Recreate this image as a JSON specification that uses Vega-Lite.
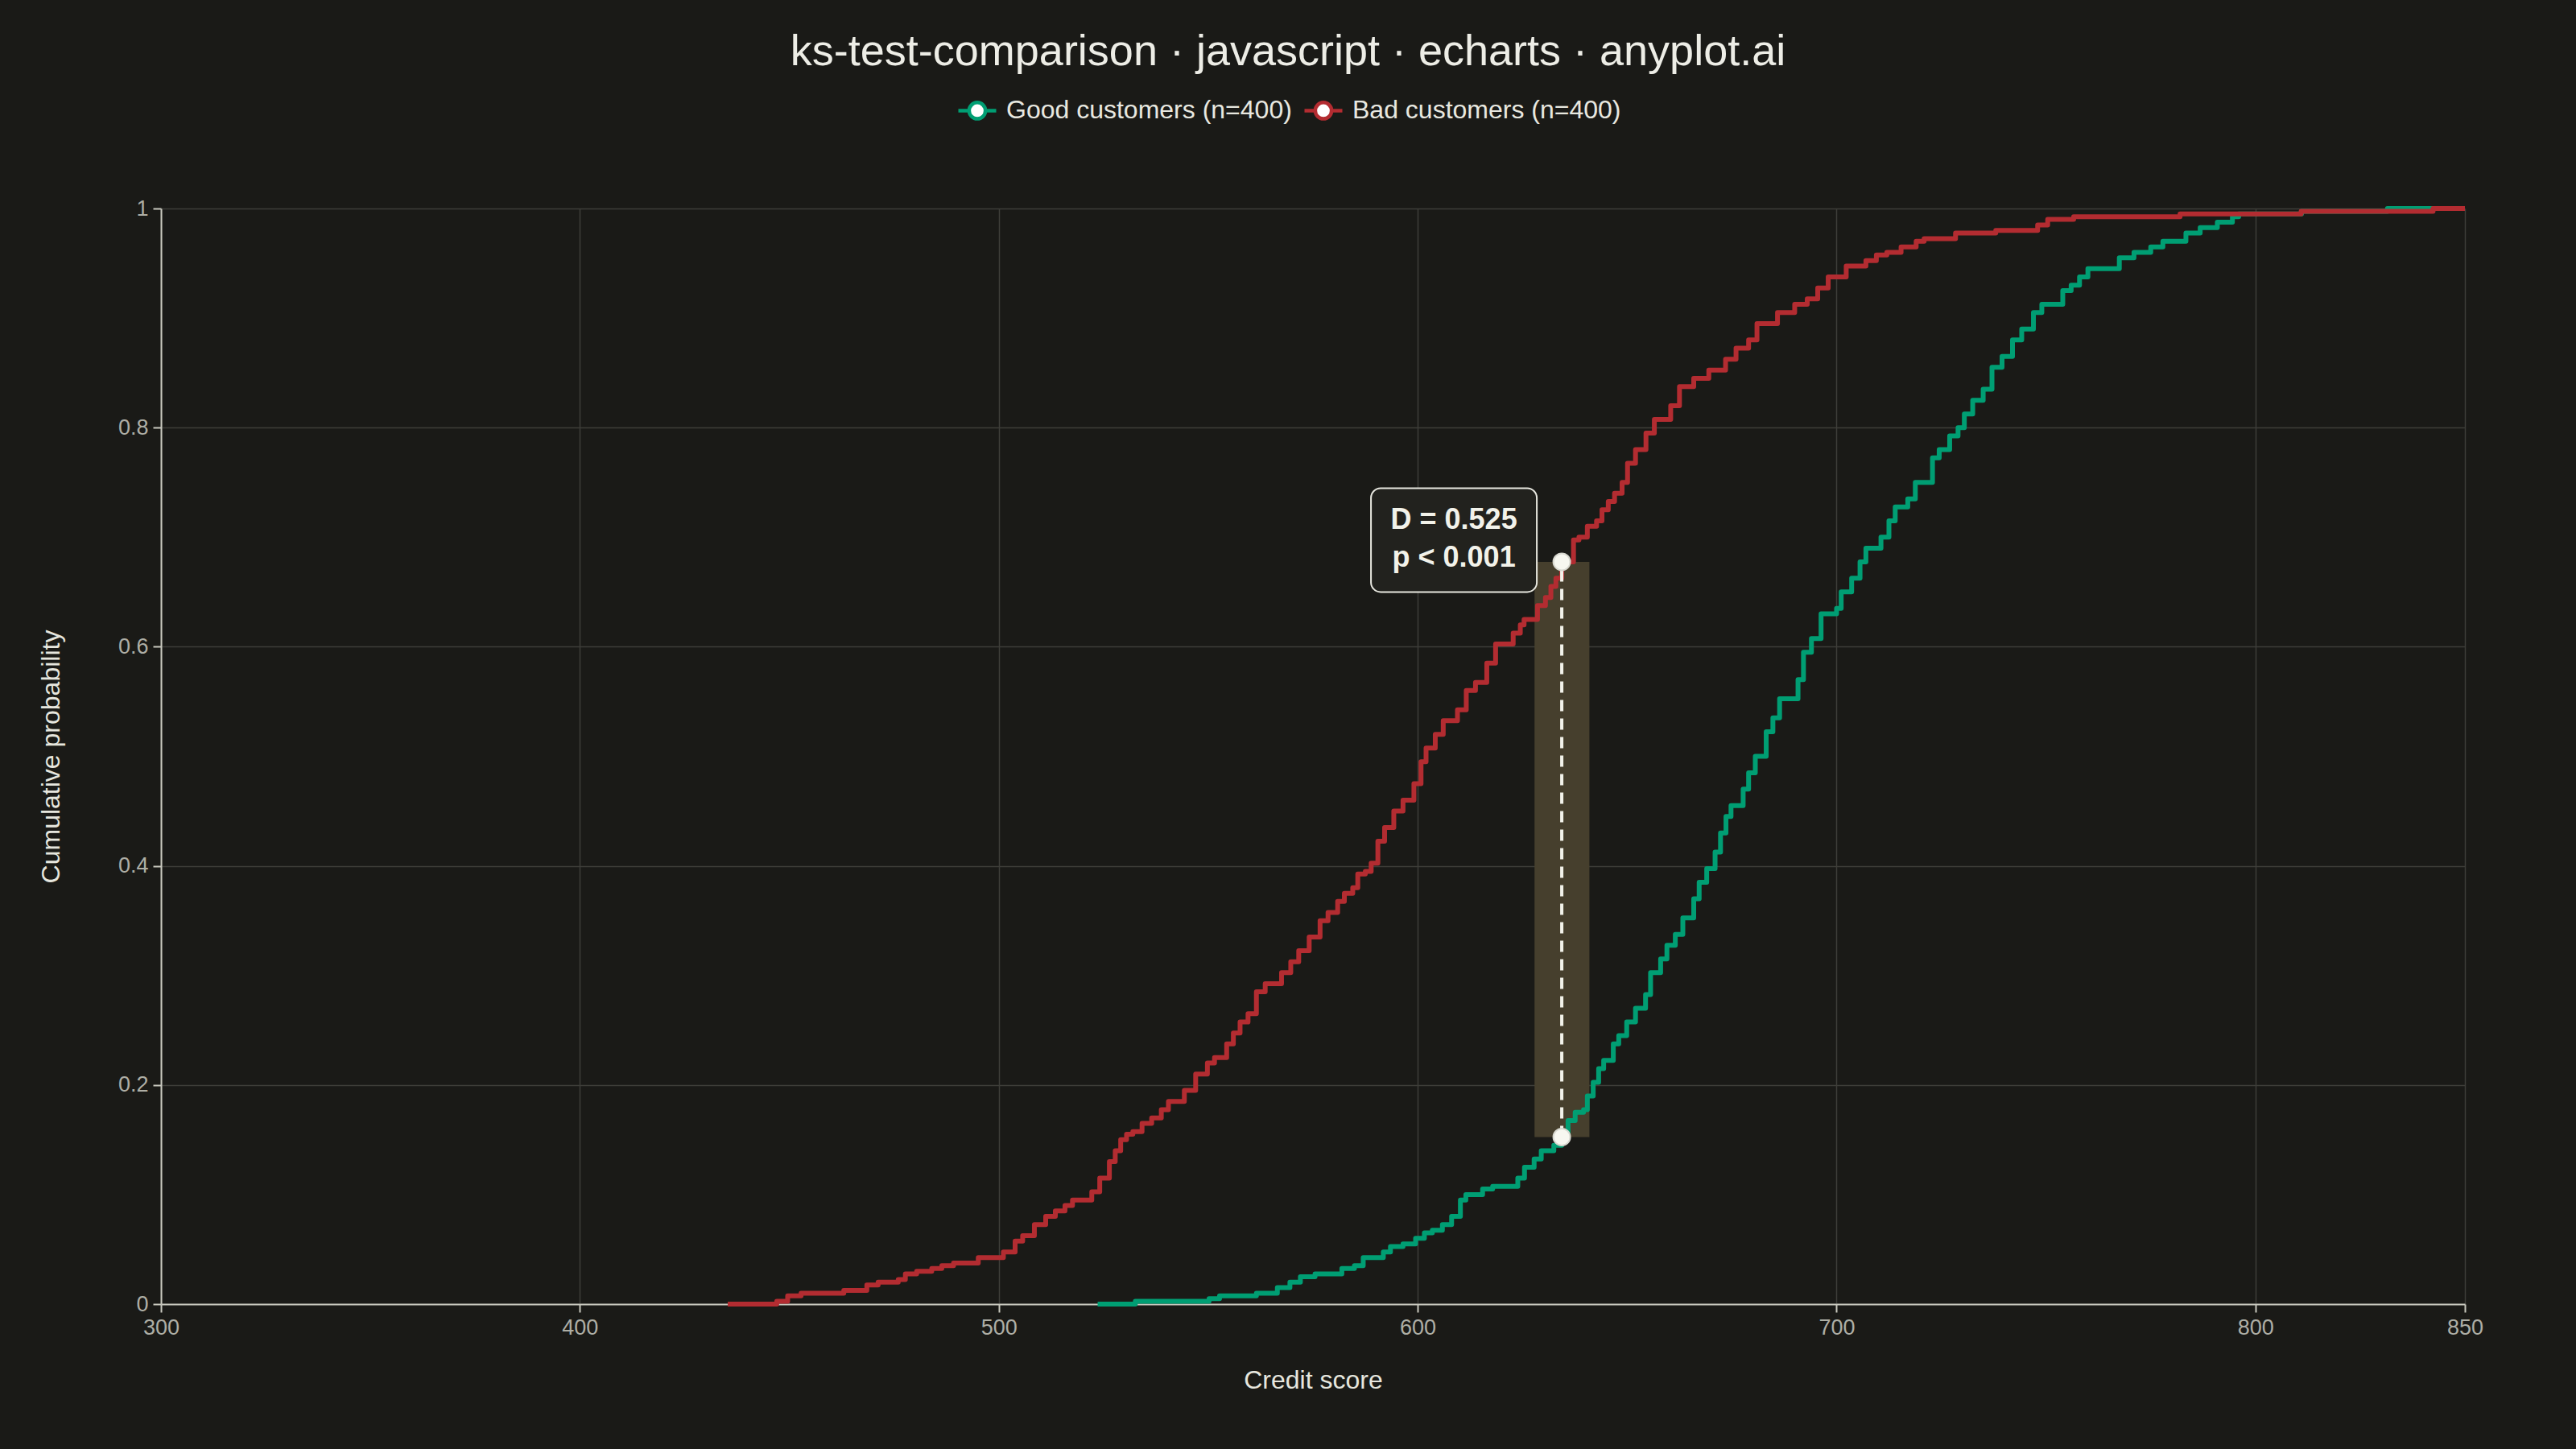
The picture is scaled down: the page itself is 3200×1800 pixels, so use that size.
{
  "$schema": "https://vega.github.io/schema/vega-lite/v6.json",
  "autosize": {"type": "none"},
  "width": 2862,
  "height": 1361,
  "padding": {"left": 200, "top": 259, "right": 138, "bottom": 180},
  "background": "#1A1A17",
  "title": {
    "text": "ks-test-comparison · javascript · echarts · anyplot.ai",
    "anchor": "middle",
    "frame": "group",
    "dx": -31,
    "offset": 19,
    "fontSize": 54,
    "fontWeight": "normal",
    "color": "#EDEDE6",
    "font": "Liberation Sans"
  },
  "datasets": {
    "ecdf": [
      {"series": "Good customers (n=400)", "score": 523.6, "cdf": 0},
      {"series": "Good customers (n=400)", "score": 532.6, "cdf": 0.0025},
      {"series": "Good customers (n=400)", "score": 550.2, "cdf": 0.005},
      {"series": "Good customers (n=400)", "score": 552.7, "cdf": 0.0075},
      {"series": "Good customers (n=400)", "score": 561.5, "cdf": 0.01},
      {"series": "Good customers (n=400)", "score": 566.5, "cdf": 0.015},
      {"series": "Good customers (n=400)", "score": 569.5, "cdf": 0.02},
      {"series": "Good customers (n=400)", "score": 572, "cdf": 0.025},
      {"series": "Good customers (n=400)", "score": 575.5, "cdf": 0.0275},
      {"series": "Good customers (n=400)", "score": 581.9, "cdf": 0.0325},
      {"series": "Good customers (n=400)", "score": 584.9, "cdf": 0.035},
      {"series": "Good customers (n=400)", "score": 587, "cdf": 0.0425},
      {"series": "Good customers (n=400)", "score": 591.8, "cdf": 0.0475},
      {"series": "Good customers (n=400)", "score": 593.5, "cdf": 0.0525},
      {"series": "Good customers (n=400)", "score": 596.5, "cdf": 0.055},
      {"series": "Good customers (n=400)", "score": 599.5, "cdf": 0.06},
      {"series": "Good customers (n=400)", "score": 601.6, "cdf": 0.065},
      {"series": "Good customers (n=400)", "score": 603.5, "cdf": 0.0675},
      {"series": "Good customers (n=400)", "score": 605.9, "cdf": 0.0725},
      {"series": "Good customers (n=400)", "score": 608.1, "cdf": 0.08},
      {"series": "Good customers (n=400)", "score": 610.2, "cdf": 0.095},
      {"series": "Good customers (n=400)", "score": 611.5, "cdf": 0.1},
      {"series": "Good customers (n=400)", "score": 615.5, "cdf": 0.105},
      {"series": "Good customers (n=400)", "score": 617.9, "cdf": 0.1075},
      {"series": "Good customers (n=400)", "score": 623.9, "cdf": 0.115},
      {"series": "Good customers (n=400)", "score": 625.5, "cdf": 0.125},
      {"series": "Good customers (n=400)", "score": 627.8, "cdf": 0.1325},
      {"series": "Good customers (n=400)", "score": 629.5, "cdf": 0.14},
      {"series": "Good customers (n=400)", "score": 632.5, "cdf": 0.145},
      {"series": "Good customers (n=400)", "score": 634.4, "cdf": 0.1525},
      {"series": "Good customers (n=400)", "score": 635.9, "cdf": 0.1675},
      {"series": "Good customers (n=400)", "score": 637.6, "cdf": 0.175},
      {"series": "Good customers (n=400)", "score": 639.6, "cdf": 0.1775},
      {"series": "Good customers (n=400)", "score": 640.5, "cdf": 0.19},
      {"series": "Good customers (n=400)", "score": 641.9, "cdf": 0.2025},
      {"series": "Good customers (n=400)", "score": 643.2, "cdf": 0.215},
      {"series": "Good customers (n=400)", "score": 644.4, "cdf": 0.2225},
      {"series": "Good customers (n=400)", "score": 646.7, "cdf": 0.2375},
      {"series": "Good customers (n=400)", "score": 648, "cdf": 0.245},
      {"series": "Good customers (n=400)", "score": 649.9, "cdf": 0.2575},
      {"series": "Good customers (n=400)", "score": 652, "cdf": 0.27},
      {"series": "Good customers (n=400)", "score": 654.4, "cdf": 0.2825},
      {"series": "Good customers (n=400)", "score": 655.6, "cdf": 0.3025},
      {"series": "Good customers (n=400)", "score": 658, "cdf": 0.315},
      {"series": "Good customers (n=400)", "score": 659.5, "cdf": 0.3275},
      {"series": "Good customers (n=400)", "score": 661.5, "cdf": 0.3375},
      {"series": "Good customers (n=400)", "score": 663.3, "cdf": 0.3525},
      {"series": "Good customers (n=400)", "score": 665.9, "cdf": 0.37},
      {"series": "Good customers (n=400)", "score": 667.2, "cdf": 0.385},
      {"series": "Good customers (n=400)", "score": 669, "cdf": 0.3975},
      {"series": "Good customers (n=400)", "score": 671, "cdf": 0.4125},
      {"series": "Good customers (n=400)", "score": 672.3, "cdf": 0.43},
      {"series": "Good customers (n=400)", "score": 673.6, "cdf": 0.445},
      {"series": "Good customers (n=400)", "score": 674.8, "cdf": 0.455},
      {"series": "Good customers (n=400)", "score": 677.7, "cdf": 0.47},
      {"series": "Good customers (n=400)", "score": 679, "cdf": 0.485},
      {"series": "Good customers (n=400)", "score": 680.6, "cdf": 0.5},
      {"series": "Good customers (n=400)", "score": 683.2, "cdf": 0.5225},
      {"series": "Good customers (n=400)", "score": 684.8, "cdf": 0.535},
      {"series": "Good customers (n=400)", "score": 686.4, "cdf": 0.5525},
      {"series": "Good customers (n=400)", "score": 690.8, "cdf": 0.57},
      {"series": "Good customers (n=400)", "score": 692.1, "cdf": 0.595},
      {"series": "Good customers (n=400)", "score": 694, "cdf": 0.6075},
      {"series": "Good customers (n=400)", "score": 696.3, "cdf": 0.63},
      {"series": "Good customers (n=400)", "score": 700, "cdf": 0.635},
      {"series": "Good customers (n=400)", "score": 701.1, "cdf": 0.65},
      {"series": "Good customers (n=400)", "score": 703.6, "cdf": 0.6625},
      {"series": "Good customers (n=400)", "score": 705.6, "cdf": 0.6775},
      {"series": "Good customers (n=400)", "score": 707, "cdf": 0.69},
      {"series": "Good customers (n=400)", "score": 710.6, "cdf": 0.7},
      {"series": "Good customers (n=400)", "score": 712.5, "cdf": 0.715},
      {"series": "Good customers (n=400)", "score": 714, "cdf": 0.7275},
      {"series": "Good customers (n=400)", "score": 717, "cdf": 0.735},
      {"series": "Good customers (n=400)", "score": 718.8, "cdf": 0.75},
      {"series": "Good customers (n=400)", "score": 722.9, "cdf": 0.7725},
      {"series": "Good customers (n=400)", "score": 724.5, "cdf": 0.78},
      {"series": "Good customers (n=400)", "score": 727, "cdf": 0.7925},
      {"series": "Good customers (n=400)", "score": 729, "cdf": 0.8},
      {"series": "Good customers (n=400)", "score": 730.5, "cdf": 0.8125},
      {"series": "Good customers (n=400)", "score": 732.5, "cdf": 0.825},
      {"series": "Good customers (n=400)", "score": 735, "cdf": 0.835},
      {"series": "Good customers (n=400)", "score": 737.1, "cdf": 0.855},
      {"series": "Good customers (n=400)", "score": 739.5, "cdf": 0.865},
      {"series": "Good customers (n=400)", "score": 742, "cdf": 0.88},
      {"series": "Good customers (n=400)", "score": 744.2, "cdf": 0.89},
      {"series": "Good customers (n=400)", "score": 747, "cdf": 0.905},
      {"series": "Good customers (n=400)", "score": 749, "cdf": 0.9125},
      {"series": "Good customers (n=400)", "score": 754, "cdf": 0.925},
      {"series": "Good customers (n=400)", "score": 756, "cdf": 0.93},
      {"series": "Good customers (n=400)", "score": 758, "cdf": 0.9375},
      {"series": "Good customers (n=400)", "score": 760, "cdf": 0.945},
      {"series": "Good customers (n=400)", "score": 767.5, "cdf": 0.955},
      {"series": "Good customers (n=400)", "score": 771, "cdf": 0.96},
      {"series": "Good customers (n=400)", "score": 775, "cdf": 0.965},
      {"series": "Good customers (n=400)", "score": 777.9, "cdf": 0.97},
      {"series": "Good customers (n=400)", "score": 783.4, "cdf": 0.9775},
      {"series": "Good customers (n=400)", "score": 786.8, "cdf": 0.9825},
      {"series": "Good customers (n=400)", "score": 790.9, "cdf": 0.9875},
      {"series": "Good customers (n=400)", "score": 794.5, "cdf": 0.9925},
      {"series": "Good customers (n=400)", "score": 796, "cdf": 0.995},
      {"series": "Good customers (n=400)", "score": 811, "cdf": 0.9975},
      {"series": "Good customers (n=400)", "score": 831.5, "cdf": 1},
      {"series": "Good customers (n=400)", "score": 850, "cdf": 1},
      {"series": "Bad customers (n=400)", "score": 435.3, "cdf": 0},
      {"series": "Bad customers (n=400)", "score": 447, "cdf": 0.0025},
      {"series": "Bad customers (n=400)", "score": 449.6, "cdf": 0.0075},
      {"series": "Bad customers (n=400)", "score": 452.8, "cdf": 0.01},
      {"series": "Bad customers (n=400)", "score": 463, "cdf": 0.0125},
      {"series": "Bad customers (n=400)", "score": 468.5, "cdf": 0.0175},
      {"series": "Bad customers (n=400)", "score": 471.2, "cdf": 0.02},
      {"series": "Bad customers (n=400)", "score": 476, "cdf": 0.0225},
      {"series": "Bad customers (n=400)", "score": 477.7, "cdf": 0.0275},
      {"series": "Bad customers (n=400)", "score": 480.4, "cdf": 0.03},
      {"series": "Bad customers (n=400)", "score": 484, "cdf": 0.0325},
      {"series": "Bad customers (n=400)", "score": 486.4, "cdf": 0.035},
      {"series": "Bad customers (n=400)", "score": 489.2, "cdf": 0.0375},
      {"series": "Bad customers (n=400)", "score": 495.1, "cdf": 0.0425},
      {"series": "Bad customers (n=400)", "score": 501.1, "cdf": 0.0475},
      {"series": "Bad customers (n=400)", "score": 503.9, "cdf": 0.0575},
      {"series": "Bad customers (n=400)", "score": 505.7, "cdf": 0.0625},
      {"series": "Bad customers (n=400)", "score": 508.5, "cdf": 0.0725},
      {"series": "Bad customers (n=400)", "score": 511.2, "cdf": 0.08},
      {"series": "Bad customers (n=400)", "score": 513.5, "cdf": 0.085},
      {"series": "Bad customers (n=400)", "score": 515.8, "cdf": 0.09},
      {"series": "Bad customers (n=400)", "score": 517.6, "cdf": 0.095},
      {"series": "Bad customers (n=400)", "score": 522.2, "cdf": 0.1025},
      {"series": "Bad customers (n=400)", "score": 524.1, "cdf": 0.115},
      {"series": "Bad customers (n=400)", "score": 526.4, "cdf": 0.13},
      {"series": "Bad customers (n=400)", "score": 527.8, "cdf": 0.14},
      {"series": "Bad customers (n=400)", "score": 529.1, "cdf": 0.15},
      {"series": "Bad customers (n=400)", "score": 530.5, "cdf": 0.155},
      {"series": "Bad customers (n=400)", "score": 532, "cdf": 0.1575},
      {"series": "Bad customers (n=400)", "score": 534.2, "cdf": 0.165},
      {"series": "Bad customers (n=400)", "score": 536.5, "cdf": 0.17},
      {"series": "Bad customers (n=400)", "score": 538.8, "cdf": 0.1775},
      {"series": "Bad customers (n=400)", "score": 540.5, "cdf": 0.185},
      {"series": "Bad customers (n=400)", "score": 544.3, "cdf": 0.195},
      {"series": "Bad customers (n=400)", "score": 547, "cdf": 0.21},
      {"series": "Bad customers (n=400)", "score": 549.8, "cdf": 0.22},
      {"series": "Bad customers (n=400)", "score": 551.5, "cdf": 0.225},
      {"series": "Bad customers (n=400)", "score": 554.4, "cdf": 0.2375},
      {"series": "Bad customers (n=400)", "score": 556, "cdf": 0.2475},
      {"series": "Bad customers (n=400)", "score": 557.6, "cdf": 0.2575},
      {"series": "Bad customers (n=400)", "score": 559.5, "cdf": 0.265},
      {"series": "Bad customers (n=400)", "score": 561.5, "cdf": 0.285},
      {"series": "Bad customers (n=400)", "score": 563.6, "cdf": 0.2925},
      {"series": "Bad customers (n=400)", "score": 567.5, "cdf": 0.3025},
      {"series": "Bad customers (n=400)", "score": 569.7, "cdf": 0.3125},
      {"series": "Bad customers (n=400)", "score": 571.6, "cdf": 0.3225},
      {"series": "Bad customers (n=400)", "score": 574.1, "cdf": 0.335},
      {"series": "Bad customers (n=400)", "score": 576.7, "cdf": 0.35},
      {"series": "Bad customers (n=400)", "score": 578.6, "cdf": 0.3575},
      {"series": "Bad customers (n=400)", "score": 580.9, "cdf": 0.3675},
      {"series": "Bad customers (n=400)", "score": 582.5, "cdf": 0.375},
      {"series": "Bad customers (n=400)", "score": 584.5, "cdf": 0.38},
      {"series": "Bad customers (n=400)", "score": 585.7, "cdf": 0.3925},
      {"series": "Bad customers (n=400)", "score": 587.5, "cdf": 0.395},
      {"series": "Bad customers (n=400)", "score": 588.9, "cdf": 0.4025},
      {"series": "Bad customers (n=400)", "score": 590.5, "cdf": 0.4225},
      {"series": "Bad customers (n=400)", "score": 592.1, "cdf": 0.435},
      {"series": "Bad customers (n=400)", "score": 594.3, "cdf": 0.45},
      {"series": "Bad customers (n=400)", "score": 596.5, "cdf": 0.46},
      {"series": "Bad customers (n=400)", "score": 599.1, "cdf": 0.475},
      {"series": "Bad customers (n=400)", "score": 600.8, "cdf": 0.495},
      {"series": "Bad customers (n=400)", "score": 602, "cdf": 0.5075},
      {"series": "Bad customers (n=400)", "score": 604.2, "cdf": 0.52},
      {"series": "Bad customers (n=400)", "score": 606.1, "cdf": 0.5325},
      {"series": "Bad customers (n=400)", "score": 609.5, "cdf": 0.5425},
      {"series": "Bad customers (n=400)", "score": 611.6, "cdf": 0.56},
      {"series": "Bad customers (n=400)", "score": 613.8, "cdf": 0.5675},
      {"series": "Bad customers (n=400)", "score": 616.5, "cdf": 0.585},
      {"series": "Bad customers (n=400)", "score": 618.6, "cdf": 0.6025},
      {"series": "Bad customers (n=400)", "score": 622.8, "cdf": 0.6125},
      {"series": "Bad customers (n=400)", "score": 624.5, "cdf": 0.62},
      {"series": "Bad customers (n=400)", "score": 625.4, "cdf": 0.625},
      {"series": "Bad customers (n=400)", "score": 628.6, "cdf": 0.6375},
      {"series": "Bad customers (n=400)", "score": 630.5, "cdf": 0.645},
      {"series": "Bad customers (n=400)", "score": 631.8, "cdf": 0.655},
      {"series": "Bad customers (n=400)", "score": 633, "cdf": 0.6625},
      {"series": "Bad customers (n=400)", "score": 634.4, "cdf": 0.6775},
      {"series": "Bad customers (n=400)", "score": 637.2, "cdf": 0.6975},
      {"series": "Bad customers (n=400)", "score": 638.5, "cdf": 0.7},
      {"series": "Bad customers (n=400)", "score": 640.5, "cdf": 0.71},
      {"series": "Bad customers (n=400)", "score": 642.7, "cdf": 0.715},
      {"series": "Bad customers (n=400)", "score": 644, "cdf": 0.725},
      {"series": "Bad customers (n=400)", "score": 645.5, "cdf": 0.7325},
      {"series": "Bad customers (n=400)", "score": 647, "cdf": 0.74},
      {"series": "Bad customers (n=400)", "score": 648.8, "cdf": 0.75},
      {"series": "Bad customers (n=400)", "score": 650.1, "cdf": 0.7675},
      {"series": "Bad customers (n=400)", "score": 652, "cdf": 0.78},
      {"series": "Bad customers (n=400)", "score": 654.5, "cdf": 0.795},
      {"series": "Bad customers (n=400)", "score": 656.5, "cdf": 0.8075},
      {"series": "Bad customers (n=400)", "score": 660.4, "cdf": 0.82},
      {"series": "Bad customers (n=400)", "score": 662.5, "cdf": 0.8375},
      {"series": "Bad customers (n=400)", "score": 665.9, "cdf": 0.845},
      {"series": "Bad customers (n=400)", "score": 669.5, "cdf": 0.8525},
      {"series": "Bad customers (n=400)", "score": 673.5, "cdf": 0.8625},
      {"series": "Bad customers (n=400)", "score": 676, "cdf": 0.8725},
      {"series": "Bad customers (n=400)", "score": 679, "cdf": 0.88},
      {"series": "Bad customers (n=400)", "score": 681, "cdf": 0.895},
      {"series": "Bad customers (n=400)", "score": 685.9, "cdf": 0.905},
      {"series": "Bad customers (n=400)", "score": 690, "cdf": 0.9125},
      {"series": "Bad customers (n=400)", "score": 693, "cdf": 0.9175},
      {"series": "Bad customers (n=400)", "score": 695.5, "cdf": 0.9275},
      {"series": "Bad customers (n=400)", "score": 698, "cdf": 0.9375},
      {"series": "Bad customers (n=400)", "score": 702.3, "cdf": 0.9475},
      {"series": "Bad customers (n=400)", "score": 707, "cdf": 0.9525},
      {"series": "Bad customers (n=400)", "score": 709.5, "cdf": 0.9575},
      {"series": "Bad customers (n=400)", "score": 712, "cdf": 0.96},
      {"series": "Bad customers (n=400)", "score": 715.4, "cdf": 0.965},
      {"series": "Bad customers (n=400)", "score": 719, "cdf": 0.97},
      {"series": "Bad customers (n=400)", "score": 720.9, "cdf": 0.9725},
      {"series": "Bad customers (n=400)", "score": 728.4, "cdf": 0.9775},
      {"series": "Bad customers (n=400)", "score": 738, "cdf": 0.98},
      {"series": "Bad customers (n=400)", "score": 748, "cdf": 0.985},
      {"series": "Bad customers (n=400)", "score": 750.4, "cdf": 0.99},
      {"series": "Bad customers (n=400)", "score": 756.6, "cdf": 0.9925},
      {"series": "Bad customers (n=400)", "score": 782, "cdf": 0.995},
      {"series": "Bad customers (n=400)", "score": 810.9, "cdf": 0.9975},
      {"series": "Bad customers (n=400)", "score": 842.4, "cdf": 1},
      {"series": "Bad customers (n=400)", "score": 850, "cdf": 1}
    ],
    "ks": [
      {"score": 634.4, "band_lo": 627.9, "band_hi": 641, "cdf_bad": 0.6775, "cdf_good": 0.1525, "label": "D = 0.525\np < 0.001"}
    ]
  },
  "layer": [
    {
      "data": {"name": "ks"},
      "mark": {"type": "rect", "fill": "#463F2D"},
      "encoding": {
        "x": {"field": "band_lo", "type": "quantitative"},
        "x2": {"field": "band_hi"},
        "y": {"field": "cdf_good", "type": "quantitative"},
        "y2": {"field": "cdf_bad"}
      }
    },
    {
      "data": {"name": "ecdf"},
      "mark": {"type": "line", "interpolate": "step-after", "strokeWidth": 6, "strokeJoin": "round"},
      "encoding": {
        "x": {
          "field": "score",
          "type": "quantitative",
          "scale": {"domain": [300, 850], "nice": false, "zero": false},
          "axis": {
            "title": "Credit score",
            "values": [300, 400, 500, 600, 700, 800, 850],
            "format": "d",
            "labelFlush": false,
            "titlePadding": 37
          }
        },
        "y": {
          "field": "cdf",
          "type": "quantitative",
          "scale": {"domain": [0, 1], "nice": false},
          "axis": {
            "title": "Cumulative probability",
            "values": [0, 0.2, 0.4, 0.6, 0.8, 1],
            "format": "~g",
            "labelFlush": false,
            "titlePadding": 66
          }
        },
        "color": {
          "field": "series",
          "type": "nominal",
          "sort": ["Good customers (n=400)", "Bad customers (n=400)"],
          "scale": {
            "domain": ["Good customers (n=400)", "Bad customers (n=400)"],
            "range": ["#009E73", "#B32C31"]
          },
          "legend": {
            "title": null,
            "orient": "none",
            "direction": "horizontal",
            "legendX": 988,
            "legendY": -148,
            "padding": 0,
            "symbolType": "M-1,0L-0.43,0M0.43,0L1,0M0.43,0A0.43,0.43,0,1,1,-0.43,0A0.43,0.43,0,1,1,0.43,0Z",
            "symbolSize": 2209,
            "symbolStrokeWidth": 4,
            "labelFontSize": 32,
            "labelLimit": 0,
            "labelColor": "#E8E8E0",
            "labelFont": "Liberation Sans",
            "labelOffset": 10,
            "columnPadding": 6,
            "encode": {
              "symbols": {"update": {"fill": {"value": "#FFFFFF"}, "strokeWidth": {"value": 4.5}}}
            }
          }
        },
        "order": {"field": "score", "type": "quantitative"}
      }
    },
    {
      "data": {"name": "ks"},
      "mark": {"type": "rule", "stroke": "#F2F2EA", "strokeWidth": 4, "strokeDash": [14, 9]},
      "encoding": {
        "x": {"field": "score", "type": "quantitative"},
        "y": {"field": "cdf_good", "type": "quantitative"},
        "y2": {"field": "cdf_bad"}
      }
    },
    {
      "data": {"name": "ks"},
      "mark": {"type": "point", "shape": "circle", "filled": true, "size": 441, "fill": "#F7F7F0", "stroke": "#D8D8D0", "strokeWidth": 2, "opacity": 1},
      "encoding": {
        "x": {"field": "score", "type": "quantitative"},
        "y": {"field": "cdf_bad", "type": "quantitative"}
      }
    },
    {
      "data": {"name": "ks"},
      "mark": {"type": "point", "shape": "circle", "filled": true, "size": 441, "fill": "#F7F7F0", "stroke": "#D8D8D0", "strokeWidth": 2, "opacity": 1},
      "encoding": {
        "x": {"field": "score", "type": "quantitative"},
        "y": {"field": "cdf_good", "type": "quantitative"}
      }
    },
    {
      "data": {"name": "ks"},
      "mark": {"type": "rect", "width": 206, "height": 129, "xOffset": -134, "yOffset": -27, "cornerRadius": 12, "fill": "#22221E", "stroke": "#E8E8E0", "strokeWidth": 2},
      "encoding": {
        "x": {"field": "score", "type": "quantitative"},
        "y": {"field": "cdf_bad", "type": "quantitative"}
      }
    },
    {
      "data": {"name": "ks"},
      "mark": {"type": "text", "lineBreak": "\n", "lineHeight": 47, "align": "center", "baseline": "middle", "dx": -134, "dy": -52, "fontSize": 36, "fontWeight": "bold", "font": "Liberation Sans", "color": "#F2F2EA"},
      "encoding": {
        "x": {"field": "score", "type": "quantitative"},
        "y": {"field": "cdf_bad", "type": "quantitative"},
        "text": {"field": "label"}
      }
    }
  ],
  "config": {
    "view": {"stroke": null},
    "font": "Liberation Sans",
    "axis": {
      "grid": true,
      "gridColor": "#3E3E39",
      "gridWidth": 1.5,
      "domainColor": "#C8C8BE",
      "domainWidth": 2,
      "tickColor": "#C8C8BE",
      "tickWidth": 2,
      "tickSize": 10,
      "labelColor": "#AEAEA5",
      "labelFontSize": 27,
      "labelFont": "Liberation Sans",
      "labelPadding": 6,
      "titleColor": "#E6E6DE",
      "titleFontSize": 32,
      "titleFontWeight": "normal",
      "titleFont": "Liberation Sans"
    }
  }
}
